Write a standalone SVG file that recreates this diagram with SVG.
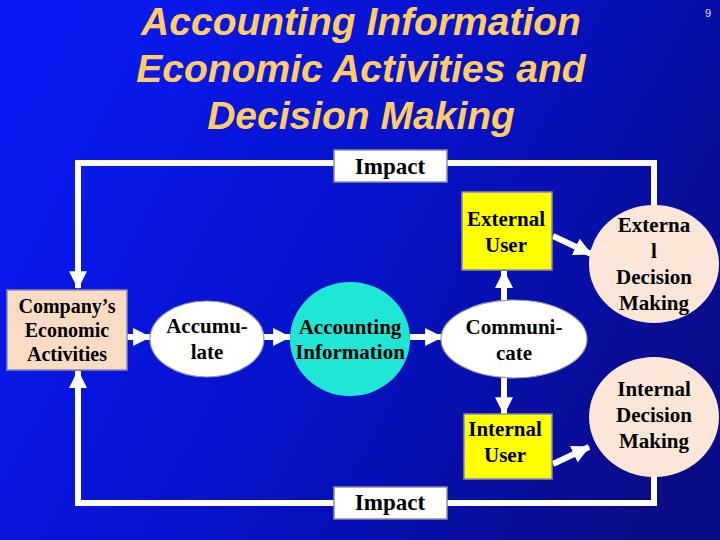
<svg xmlns="http://www.w3.org/2000/svg" width="720" height="540" viewBox="0 0 720 540">
<defs>
<linearGradient id="bg" x1="0" y1="0.3" x2="1" y2="0.7">
<stop offset="0" stop-color="#0a1af2"/>
<stop offset="0.5" stop-color="#0612c8"/>
<stop offset="1" stop-color="#0a0c86"/>
</linearGradient>
<marker id="ah" markerUnits="userSpaceOnUse" markerWidth="18" markerHeight="18" viewBox="0 0 16 16" refX="15" refY="8" orient="auto">
<path d="M0,0 L16,8 L0,16 Z" fill="#ffffff"/>
</marker>
<style>
.ttl{font-family:"Liberation Sans",Arial,sans-serif;font-weight:bold;font-style:italic;font-size:39px;fill:#ffcc66;text-anchor:middle}
.lbl{font-family:"Liberation Serif","Times New Roman",serif;font-weight:bold;font-size:21px;fill:#000;text-anchor:middle}
.sm{font-size:20px}
.imp{font-size:23px}
.box{stroke:#8a8aa8;stroke-width:1.5}
.ell{fill:#ffffff;stroke:#9a9ab0;stroke-width:1.2}
.ln{fill:none;stroke:#ffffff;stroke-width:6}
.ar{fill:none;stroke:#ffffff;stroke-width:6;marker-end:url(#ah)}
</style>
</defs>
<rect width="720" height="540" fill="url(#bg)"/>
<g id="title">
<text class="ttl" x="361" y="35">Accounting Information</text>
<text class="ttl" x="361" y="82">Economic Activities and</text>
<text class="ttl" x="361" y="129">Decision Making</text>
<text x="708" y="17" font-family="Liberation Sans,Arial,sans-serif" font-size="11" fill="#e0e0e0" text-anchor="middle">9</text>
</g>
<g id="connectors">
<polyline class="ar" points="334,163 78,163 78,288"/>
<polyline class="ln" points="447,163 654,163 654,206"/>
<polyline class="ar" points="334,503 78,503 78,371"/>
<polyline class="ln" points="447,503 654,503 654,476"/>
<line class="ar" x1="127" y1="337" x2="150" y2="337"/>
<line class="ar" x1="263" y1="337" x2="290" y2="337"/>
<line class="ar" x1="410" y1="337" x2="442" y2="337"/>
<line class="ar" x1="504" y1="300" x2="504" y2="271"/>
<line class="ar" x1="504" y1="378" x2="504" y2="414"/>
<line class="ar" x1="553" y1="236" x2="591" y2="254"/>
<line class="ar" x1="553" y1="464" x2="589" y2="447"/>
</g>
<g id="impact-top">
<rect class="box" x="334" y="150" width="113" height="32" fill="#ffffff"/>
<text class="lbl imp" x="390" y="174">Impact</text>
</g>
<g id="impact-bottom">
<rect class="box" x="334" y="487" width="113" height="32" fill="#ffffff"/>
<text class="lbl imp" x="390" y="510">Impact</text>
</g>
<g id="company">
<rect class="box" x="7" y="290" width="120" height="80" fill="#fadcc4"/>
<text class="lbl sm" x="67" y="313">Company’s</text>
<text class="lbl sm" x="67" y="337">Economic</text>
<text class="lbl sm" x="67" y="361">Activities</text>
</g>
<g id="accumulate">
<ellipse class="ell" cx="207" cy="339" rx="57" ry="38"/>
<text class="lbl" x="207" y="333">Accumu-</text>
<text class="lbl" x="207" y="359">late</text>
</g>
<g id="accounting-information">
<ellipse cx="350" cy="339" rx="60" ry="57" fill="#20e6d6"/>
<text class="lbl" x="350" y="334">Accounting</text>
<text class="lbl" x="350" y="359">Information</text>
</g>
<g id="communicate">
<ellipse class="ell" cx="514" cy="339" rx="73" ry="39"/>
<text class="lbl" x="514" y="334">Communi-</text>
<text class="lbl" x="514" y="360">cate</text>
</g>
<g id="external-user">
<rect class="box" x="462" y="192" width="90" height="78" fill="#ffff00"/>
<text class="lbl" x="506" y="226">External</text>
<text class="lbl" x="506" y="252">User</text>
</g>
<g id="internal-user">
<rect class="box" x="464" y="414" width="88" height="65" fill="#ffff00"/>
<text class="lbl" x="505" y="436">Internal</text>
<text class="lbl" x="505" y="462">User</text>
</g>
<g id="external-decision">
<ellipse cx="654" cy="264" rx="65" ry="59" fill="#fce6d8"/>
<text class="lbl" x="654" y="232">Externa</text>
<text class="lbl" x="654" y="258">l</text>
<text class="lbl" x="654" y="284">Decision</text>
<text class="lbl" x="654" y="310">Making</text>
</g>
<g id="internal-decision">
<ellipse cx="654" cy="417" rx="65" ry="60" fill="#fce6d8"/>
<text class="lbl" x="654" y="396">Internal</text>
<text class="lbl" x="654" y="422">Decision</text>
<text class="lbl" x="654" y="448">Making</text>
</g>
</svg>
